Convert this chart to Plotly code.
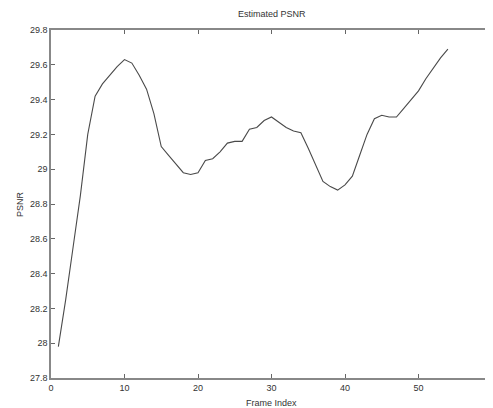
import plotly.graph_objects as go

frames = list(range(1, 55))
psnr = [27.98, 28.25, 28.55, 28.85, 29.20, 29.42, 29.49, 29.54, 29.59, 29.63,
        29.61, 29.54, 29.46, 29.32, 29.13, 29.08, 29.03, 28.98, 28.97, 28.98,
        29.05, 29.06, 29.10, 29.15, 29.16, 29.16, 29.23, 29.24, 29.28, 29.30,
        29.27, 29.24, 29.22, 29.21, 29.12, 29.02, 28.93, 28.90, 28.88, 28.91,
        28.96, 29.08, 29.20, 29.29, 29.31, 29.30, 29.30, 29.35, 29.40, 29.45,
        29.52, 29.58, 29.64, 29.69]

x_ticks = [0, 10, 20, 30, 40, 50, 60]
y_ticks = [27.8, 28.0, 28.2, 28.4, 28.6, 28.8, 29.0, 29.2, 29.4, 29.6, 29.8]
y_tick_text = ["27.8", "28", "28.2", "28.4", "28.6", "28.8", "29", "29.2", "29.4", "29.6", "29.8"]

fig = go.Figure()
fig.add_trace(go.Scatter(x=frames, y=psnr, mode="lines",
                         line=dict(color="#4a4a4a", width=1.1), showlegend=False))

font = dict(family="Liberation Sans, Arial, sans-serif", size=9, color="#333333")
# The page body has an 8px default margin, so the figure is sized/offset to compensate.
fig.update_layout(
    width=485, height=400,
    margin=dict(l=43, r=1, t=22, b=30, autoexpand=False),
    paper_bgcolor="white", plot_bgcolor="white",
    font=font,
)
fig.add_annotation(text="Estimated PSNR", xref="paper", yref="paper", x=0.5, y=1.0,
                   xanchor="center", yanchor="bottom", yshift=9, showarrow=False,
                   font=dict(size=9, color="#333333"))
fig.add_annotation(text="Frame Index", xref="paper", yref="paper", x=0.5, y=0.0,
                   xanchor="center", yanchor="top", yshift=-18, showarrow=False,
                   font=dict(size=9, color="#333333"))
fig.add_annotation(text="PSNR", xref="paper", yref="paper", x=0.0, y=0.5,
                   xanchor="center", yanchor="middle", xshift=-31, textangle=-90,
                   showarrow=False, font=dict(size=9, color="#333333"))
# last x tick label (partly cut at the right edge, as in the reference)
fig.add_annotation(text=str(x_ticks[-1]), xref="x", yref="paper", x=x_ticks[-1], y=0.0,
                   xanchor="center", yanchor="top", yshift=-2, showarrow=False,
                   font=dict(size=9, color="#333333"))
fig.update_xaxes(range=[0, 60], tickvals=x_ticks, ticks="inside", ticklen=4,
                 tickcolor="#666666", showline=True, linecolor="#888888", linewidth=1.5,
                 mirror="ticks", showgrid=False, zeroline=False, automargin=False)
fig.update_yaxes(range=[27.8, 29.8], tickvals=y_ticks, ticktext=y_tick_text,
                 ticks="inside", ticklen=4, tickcolor="#666666", showline=True,
                 linecolor="#888888", linewidth=1.5, mirror="ticks", showgrid=False,
                 zeroline=False, automargin=False)

fig.write_html("out.html")
